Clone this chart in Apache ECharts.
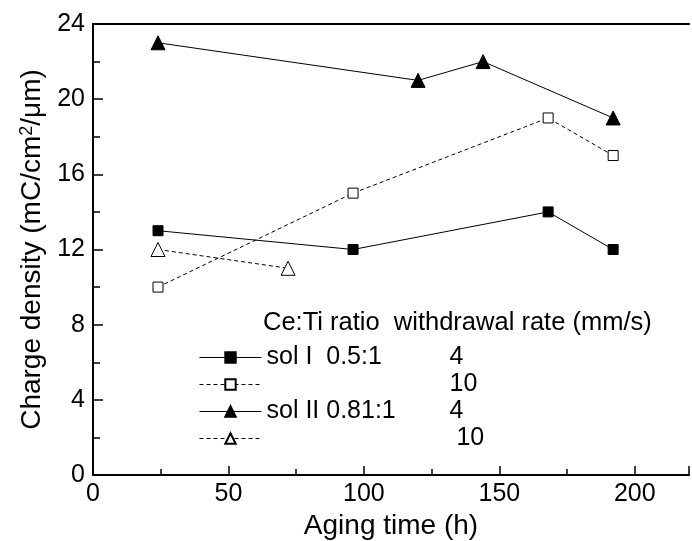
<!DOCTYPE html>
<html>
<head>
<meta charset="utf-8">
<script src="https://cdn.jsdelivr.net/npm/echarts@6/dist/echarts.min.js"></script>
<style>
  html, body { margin: 0; padding: 0; background: #fff; }
  #chart { width: 692px; height: 541px; }
</style>
</head>
<body>
<div id="chart"></div>
<script>
// aging time (h) / charge density (mC/cm2/um)
const solI_4 = [[24, 13], [96, 12], [168, 14], [192, 12]]
const solI_10 = [[24, 10], [96, 15], [168, 19], [192, 17]]
const solII_4 = [[24, 23], [120, 21], [144, 22], [192, 19]]
const solII_10 = [[24, 12], [72, 11]]

const legendRows = {
  'sol I 4': ['sol I  0.5:1', '4'],
  'sol I 10': ['', '10'],
  'sol II 4': ['sol II 0.81:1', '4'],
  'sol II 10': ['', ' 10'],
}

const font = 'Liberation Sans, Arial, sans-serif'
const chart = echarts.init(document.getElementById('chart'))

const mkSeries = (name, data, symbol, size, filled, dashed) => ({
  name,
  type: 'line',
  data,
  symbol,
  symbolSize: size,
  showSymbol: true,
  lineStyle: { color: '#000', width: 1, type: dashed ? [4, 3] : 'solid' },
  itemStyle: { color: filled ? '#000' : '#fff', borderColor: '#000', borderWidth: 1 },
  emphasis: { disabled: true },
  z: 3,
})

chart.setOption({
  animation: false,
  grid: { left: 93, top: 24, right: 3, bottom: 66, outerBoundsMode: 'none', containLabel: false },
  textStyle: { fontFamily: font, color: '#000' },
  legend: {
    orient: 'vertical',
    left: 194,
    top: 340,
    itemWidth: 62,
    itemHeight: 13,
    itemGap: 2,
    selectedMode: false,
    lineStyle: { width: 1 },
    textStyle: {
      fontFamily: font,
      fontSize: 25,
      color: '#000',
      rich: {
        a: { width: 183, fontSize: 25, fontFamily: font, color: '#000' },
        b: { fontSize: 25, fontFamily: font, color: '#000' },
      },
    },
    formatter: (name) => `{a|${legendRows[name][0]}}{b|${legendRows[name][1]}}`,
    data: ['sol I 4', 'sol I 10', 'sol II 4', 'sol II 10'],
  },
  graphic: [
    {
      type: 'text',
      left: 263,
      top: 310,
      style: { text: 'Ce:Ti ratio  withdrawal rate (mm/s)', font: '25.5px ' + font, fill: '#000' },
    },
  ],
  xAxis: [
    {
      type: 'value',
      min: 0,
      max: 220,
      interval: 50,
      name: 'Aging time (h)',
      nameLocation: 'middle',
      nameGap: 33,
      nameTextStyle: { fontSize: 28, fontFamily: font, color: '#000' },
      axisLine: { onZero: false, lineStyle: { color: '#000', width: 2 } },
      axisTick: { inside: true, length: 9, lineStyle: { color: '#000', width: 1.5 } },
      minorTick: { show: true, splitNumber: 2, length: 6, lineStyle: { color: '#000', width: 1.5 } },
      axisLabel: { fontSize: 25, fontFamily: font, color: '#000', margin: 7, showMaxLabel: false },
      splitLine: { show: false },
    },
    {
      type: 'value',
      position: 'top',
      min: 0,
      max: 220,
      axisLine: { show: true, onZero: false, lineStyle: { color: '#000', width: 2 } },
      axisTick: { show: false },
      axisLabel: { show: false },
      splitLine: { show: false },
    },
  ],
  yAxis: {
    type: 'value',
    min: 0,
    max: 24,
    interval: 4,
    name: 'Charge density (mC/cm{sup|2}/μm)',
    nameLocation: 'middle',
    nameGap: 47,
    nameTextStyle: {
      fontSize: 28,
      fontFamily: font,
      color: '#000',
      rich: { sup: { fontSize: 18, fontFamily: font, color: '#000', verticalAlign: 'top', padding: [0, 0, 10, 0] } },
    },
    axisLine: { show: true, onZero: false, lineStyle: { color: '#000', width: 2 } },
    axisTick: { inside: true, length: 10, lineStyle: { color: '#000', width: 1.5 } },
    minorTick: { show: true, splitNumber: 2, length: 7, lineStyle: { color: '#000', width: 1.5 } },
    axisLabel: { fontSize: 25, fontFamily: font, color: '#000', margin: 8 },
    splitLine: { show: false },
  },
  series: [
    mkSeries('sol I 4', solI_4, 'rect', 10, true, false),
    mkSeries('sol I 10', solI_10, 'rect', 10, false, true),
    mkSeries('sol II 4', solII_4, 'triangle', 14, true, false),
    mkSeries('sol II 10', solII_10, 'triangle', 14, false, true),
  ],
})
</script>
</body>
</html>
